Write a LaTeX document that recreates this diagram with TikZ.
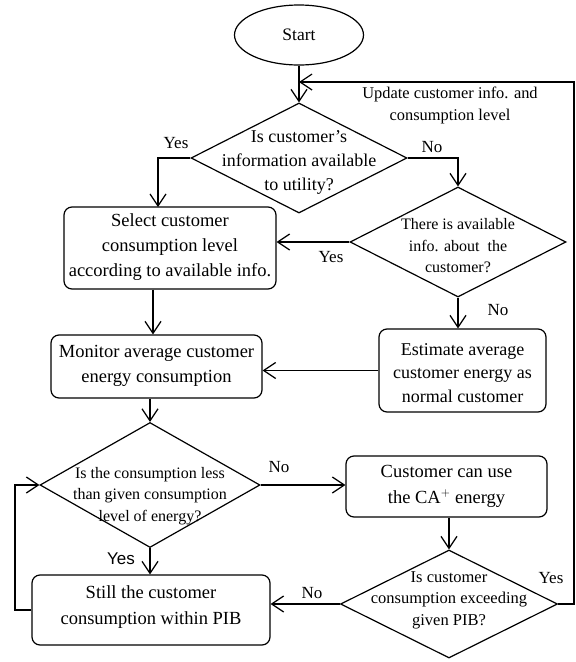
\documentclass[tikz,border=0pt]{standalone}
\usepackage{fontspec}
\setmainfont{Liberation Serif}
\setsansfont{Liberation Sans}
\usetikzlibrary{shapes.geometric,arrows.meta}
\begin{document}
\begin{tikzpicture}[x=1pt,y=-1pt,line width=1.2pt,
  box/.style={draw,rounded corners=8pt,inner sep=0pt},
  dia/.style={draw,diamond,inner sep=0pt},
  btxt/.style={align=center,inner sep=0pt,font=\fontsize{18.5}{25}\selectfont},
  dtxt/.style={align=center,inner sep=0pt,font=\fontsize{16}{21.5}\selectfont},
  lbl/.style={inner sep=0pt,font=\fontsize{17}{20}\selectfont},
  arr/.style={-{Straight Barb[length=12pt,width=16pt,line width=1.2pt]}}]
\useasboundingbox (0,0) rectangle (576,662);

% nodes
\node[draw,ellipse,minimum width=129pt,minimum height=60pt,inner sep=0pt,
      font=\fontsize{17.5}{20}\selectfont] (start) at (299,35) {Start};

\node[dia,minimum width=216pt,minimum height=110pt] (d1) at (299,158) {};
\node[btxt,font=\fontsize{18}{24}\selectfont] (t1) at (299,162) {Is customer’s\\information available\\to utility?};

\node[dia,minimum width=216pt,minimum height=110pt] (d2) at (458,242) {};
\node[dtxt] (t2) at (458,246) {There is available\\info. about\ \ the\\customer?};

\node[box,minimum width=212pt,minimum height=82pt] (select) at (170,248) {};
\node[btxt] (ts) at (170,247) {Select customer\\consumption level\\according to available info.};

\node[box,minimum width=211pt,minimum height=63pt] (monitor) at (156.5,366.5) {};
\node[btxt] (tm) at (156.5,366) {Monitor average customer\\energy consumption};

\node[box,minimum width=167pt,minimum height=83pt] (estimate) at (462.5,370.5) {};
\node[btxt,font=\fontsize{18}{23.5}\selectfont] (te) at (462.5,373) {Estimate average\\customer energy as\\normal customer};

\node[dia,minimum width=220pt,minimum height=125pt] (d3) at (150,485) {};
\node[dtxt] (t3) at (150,496) {Is the consumption less\\than given consumption\\level of energy?};

\node[box,minimum width=201pt,minimum height=61pt] (cust) at (446.5,486.5) {};
\node[btxt,font=\fontsize{18.5}{26}\selectfont] (tc) at (446.5,486) {Customer can use\\the CA$^{+}$ energy};

\node[dia,minimum width=217pt,minimum height=108pt] (d4) at (449,604) {};
\node[dtxt,font=\fontsize{16.5}{21.5}\selectfont] (t4) at (449,600) {Is customer\\consumption exceeding\\given PIB?};

\node[box,minimum width=238pt,minimum height=70pt] (still) at (151,610) {};
\node[btxt,font=\fontsize{18.5}{26}\selectfont] (tst) at (151,607) {Still the customer\\consumption within PIB};

% labels
\node[lbl] (l1) at (176,143) {Yes};
\node[lbl] (l2) at (432,147) {No};
\node[align=center,inner sep=0pt,font=\fontsize{16.4}{22}\selectfont] (lu) at (450,105) {Update customer info. and\\consumption level};
\node[lbl] (l3) at (331,257) {Yes};
\node[lbl] (l4) at (498,310) {No};
\node[lbl] (l5) at (279,467) {No};
\node[lbl,font=\sffamily\fontsize{17}{20}\selectfont] (l6) at (121,559) {Yes};
\node[lbl] (l7) at (312,593) {No};
\node[lbl] (l8) at (551,578) {Yes};

% coordinates
\coordinate (fb) at (299,82);
\coordinate (rc) at (574,82);
\coordinate (y1) at (158,207);
\coordinate (lp) at (15,610);

% connectors
\draw[arr] (start.south) -- (d1.north);
\draw[arr] (d4.east) -| (rc) -- (fb);
\draw[arr] (d1.west) -| (y1);
\draw[arr] (d1.east) -| (d2.north);
\draw[arr] (d2.west) -- (d2.west -| select.east);
\draw[arr] ([xshift=-17pt]select.south) -- ([xshift=-17pt]select.south |- monitor.north);
\draw[arr] (d2.south) -- (d2.south |- estimate.north);
\draw[arr] (estimate.west) -- (estimate.west -| monitor.east);
\draw[arr] (monitor.south -| d3.north) -- (d3.north);
\draw[arr] (d3.east) -- (d3.east -| cust.west);
\draw[arr] (cust.south -| d4.north) -- (d4.north);
\draw[arr] (d4.west) -- (d4.west -| still.east);
\draw[arr] (d3.south) -- (d3.south |- still.north);
\draw[arr] (still.west) -- (lp) |- (d3.west);
\end{tikzpicture}
\end{document}
